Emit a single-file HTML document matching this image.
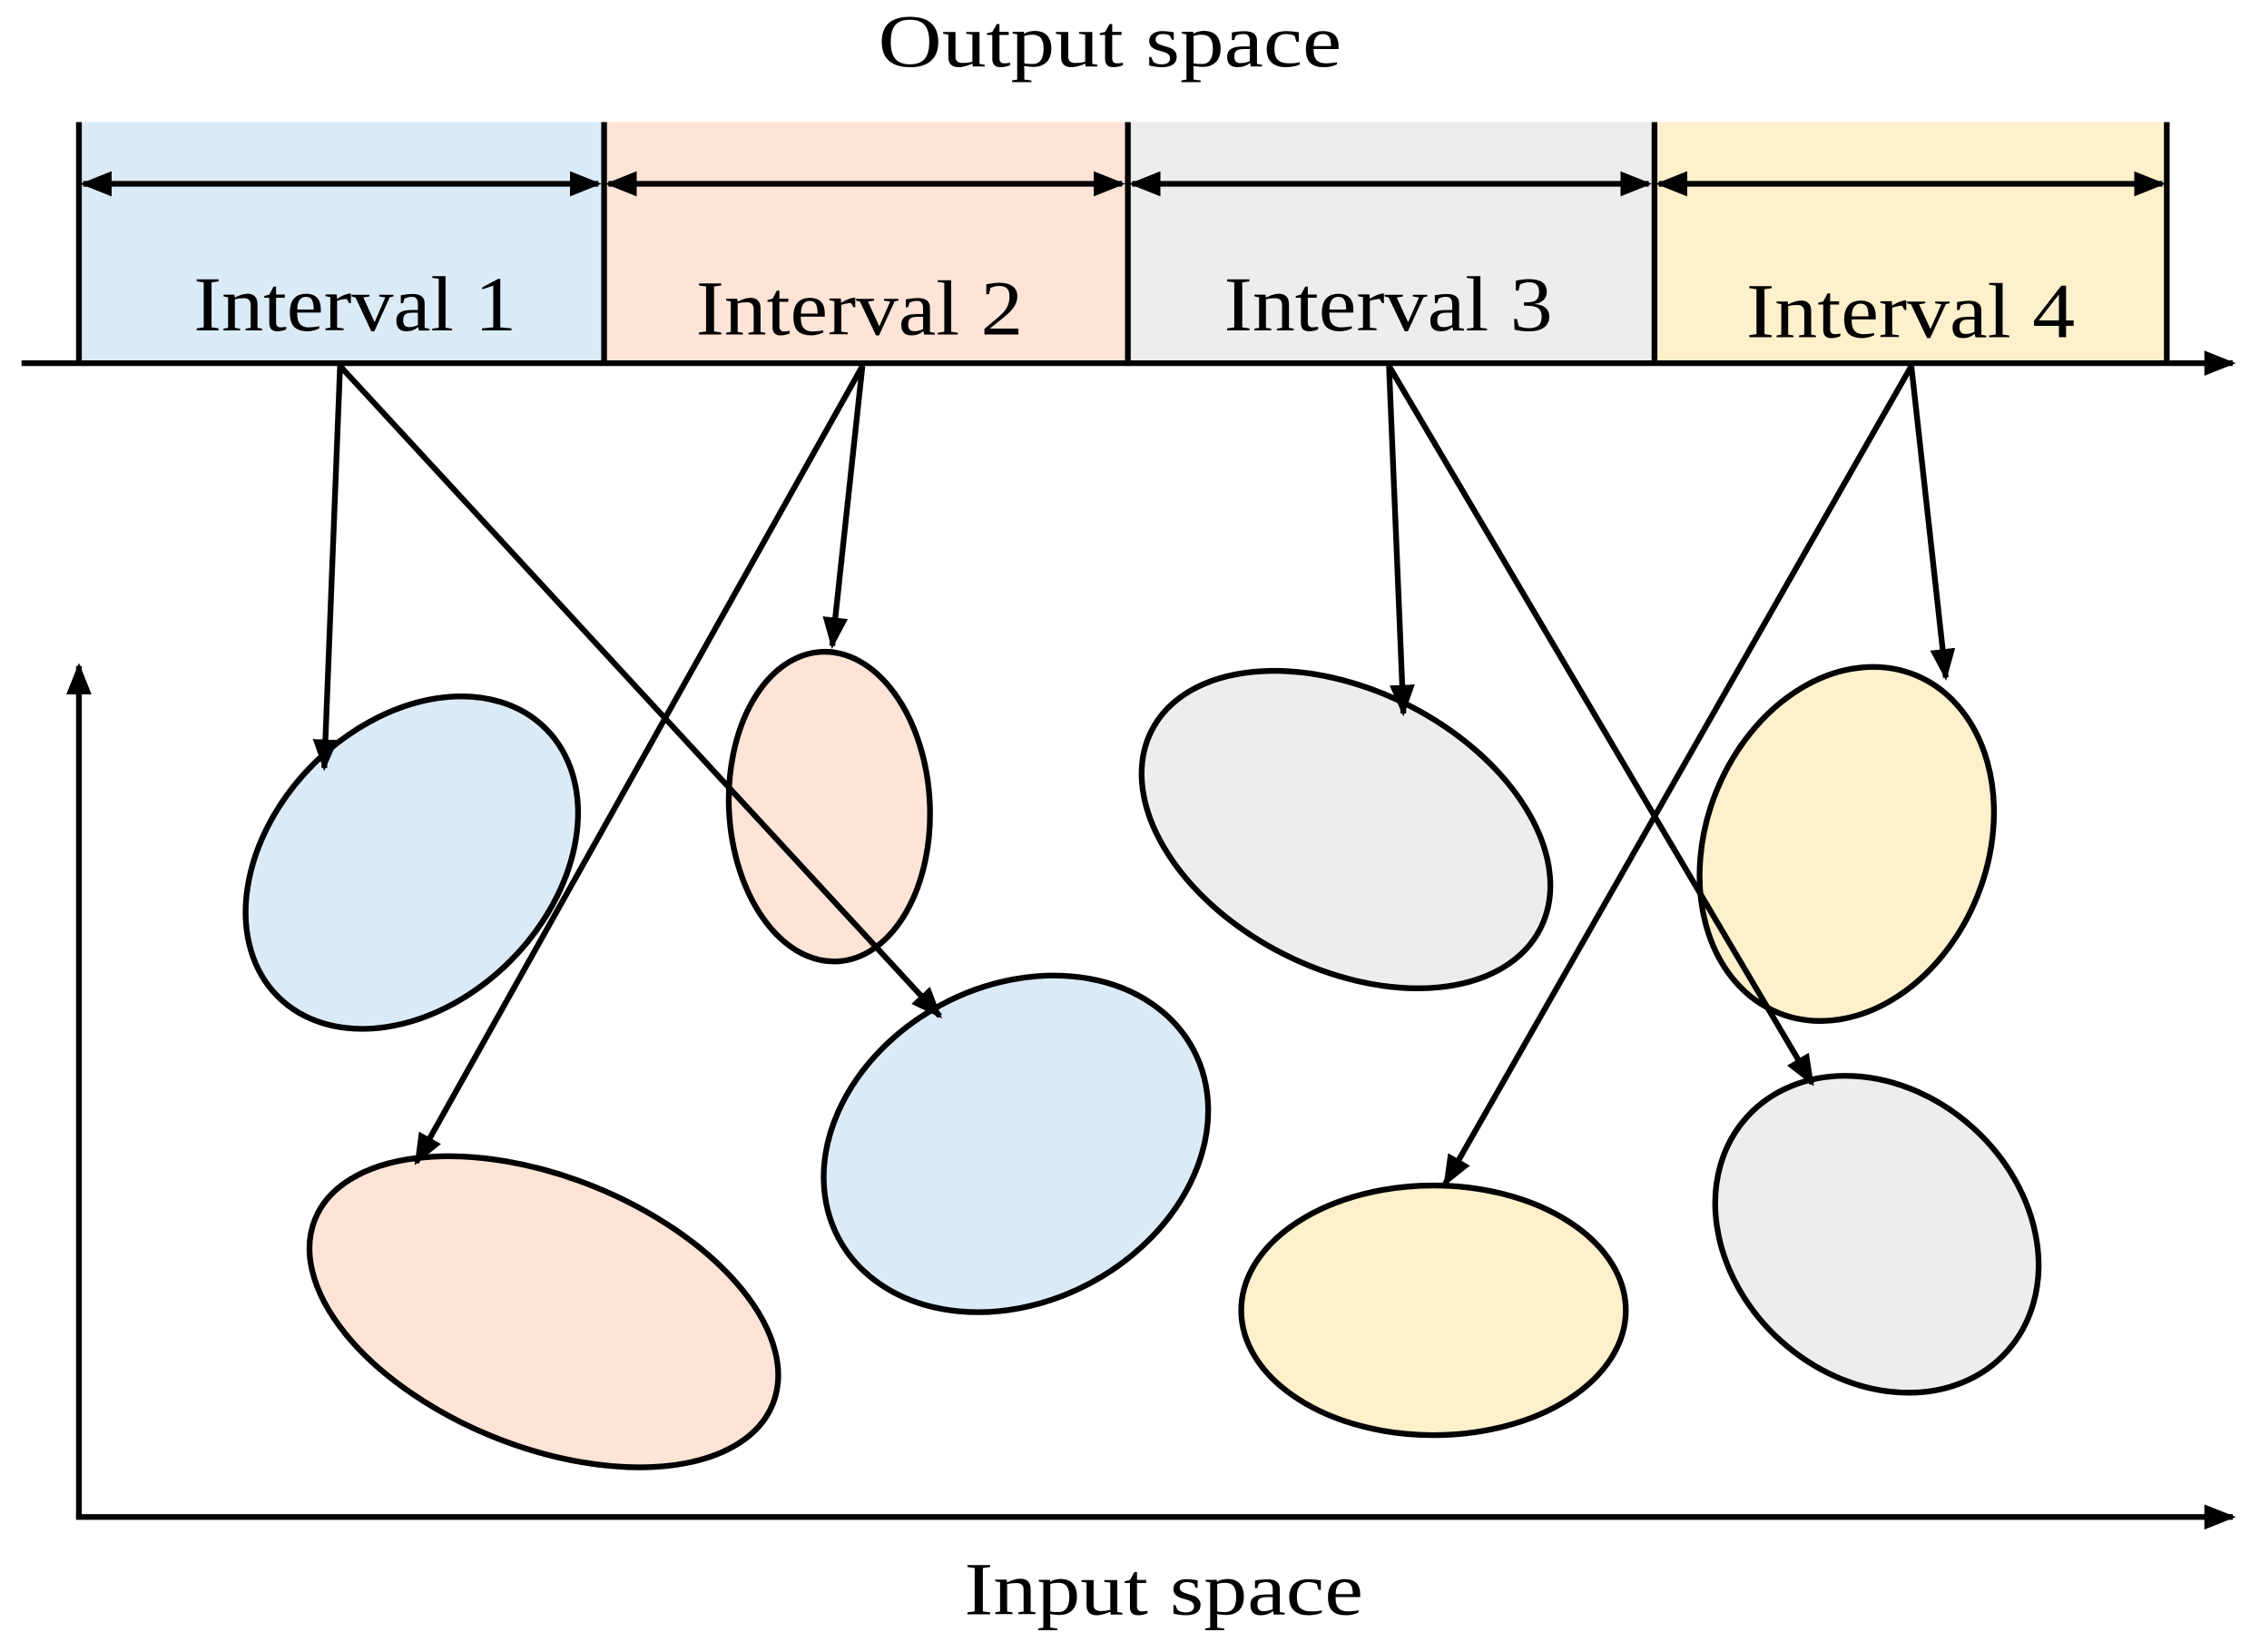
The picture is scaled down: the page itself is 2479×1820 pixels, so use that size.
<!DOCTYPE html>
<html><head><meta charset="utf-8"><style>html,body{margin:0;padding:0;background:#fff}svg{display:block}</style></head>
<body>
<svg width="2479" height="1820" viewBox="0 0 1568 1151" xmlns="http://www.w3.org/2000/svg">
<defs>
<marker id="a" viewBox="0 0 10 10" refX="9" refY="5" markerWidth="5.5" markerHeight="5.5" orient="auto-start-reverse"><path d="M0,1 L10,5 L0,9 z" fill="#000"/></marker>
</defs>
<g font-family="'Liberation Serif', serif" fill="#000">
<text x="612" y="46" font-size="52" textLength="323" lengthAdjust="spacingAndGlyphs">Output space</text>
<text x="672" y="1125" font-size="52" textLength="278" lengthAdjust="spacingAndGlyphs">Input space</text>
</g>
<rect x="55" y="85" width="365" height="167" fill="#dbeaf7"/>
<rect x="420" y="85" width="365" height="167" fill="#fde4d6"/>
<rect x="785" y="85" width="367" height="167" fill="#ededed"/>
<rect x="1152" y="85" width="358" height="167" fill="#fdf0cb"/>
<g stroke="#000" stroke-width="4">
<line x1="55" y1="85" x2="55" y2="254"/>
<line x1="421" y1="85" x2="421" y2="254"/>
<line x1="786" y1="85" x2="786" y2="254"/>
<line x1="1153" y1="85" x2="1153" y2="254"/>
<line x1="1510" y1="85" x2="1510" y2="254"/>
</g>
<g stroke="#000" stroke-width="4" marker-start="url(#a)" marker-end="url(#a)">
<line x1="58" y1="128" x2="417" y2="128"/>
<line x1="424" y1="128" x2="782" y2="128"/>
<line x1="789" y1="128" x2="1149" y2="128"/>
<line x1="1156" y1="128" x2="1507" y2="128"/>
</g>
<g font-family="'Liberation Serif', serif" font-size="54">
<text x="135" y="230" textLength="225" lengthAdjust="spacingAndGlyphs">Interval 1</text>
<text x="485" y="233" textLength="228" lengthAdjust="spacingAndGlyphs">Interval 2</text>
<text x="853" y="230" textLength="229" lengthAdjust="spacingAndGlyphs">Interval 3</text>
<text x="1217" y="235" textLength="229" lengthAdjust="spacingAndGlyphs">Interval 4</text>
</g>
<g stroke="#000" stroke-width="4" marker-end="url(#a)">
<line x1="15" y1="253" x2="1556" y2="253"/>
<line x1="55" y1="1057" x2="55" y2="464"/>
<line x1="53" y1="1057" x2="1556" y2="1057"/>
</g>
<g stroke="#000" stroke-width="4">
<ellipse cx="287" cy="601" rx="132" ry="97" transform="rotate(-45 287 601)" fill="#dbeaf7"/>
<ellipse cx="578" cy="562" rx="70" ry="108" transform="rotate(-3 578 562)" fill="#fde4d6"/>
<ellipse cx="938" cy="578" rx="152" ry="97" transform="rotate(27 938 578)" fill="#ededed"/>
<ellipse cx="1287" cy="588" rx="98" ry="127" transform="rotate(22 1287 588)" fill="#fdf0cb"/>
<ellipse cx="379" cy="914" rx="172" ry="94" transform="rotate(22 379 914)" fill="#fde4d6"/>
<ellipse cx="708" cy="797" rx="140" ry="110" transform="rotate(-28 708 797)" fill="#dbeaf7"/>
<ellipse cx="999" cy="913" rx="134" ry="87" fill="#fdf0cb"/>
<ellipse cx="1308" cy="860" rx="122" ry="100" transform="rotate(42 1308 860)" fill="#ededed"/>
</g>
<g stroke="#000" stroke-width="4" marker-end="url(#a)">
<line x1="237" y1="255" x2="226" y2="535"/>
<line x1="237" y1="255" x2="655" y2="708"/>
<line x1="601" y1="255" x2="580" y2="450"/>
<line x1="601" y1="255" x2="290" y2="810"/>
<line x1="968" y1="255" x2="978" y2="497"/>
<line x1="968" y1="255" x2="1263" y2="755"/>
<line x1="1332" y1="255" x2="1356" y2="472"/>
<line x1="1332" y1="255" x2="1007" y2="825"/>
</g>
</svg>
</body></html>
